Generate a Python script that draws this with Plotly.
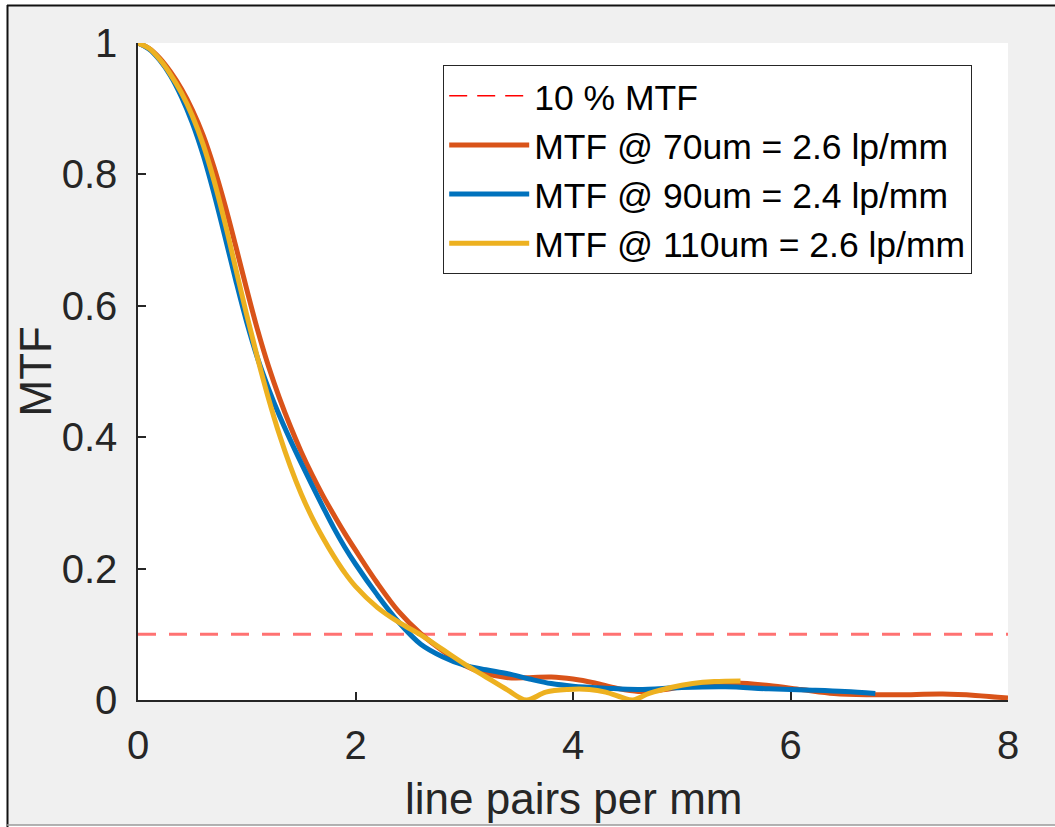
import plotly.graph_objects as go

# ---- data ----
x_70 = [0, 0.1, 0.2, 0.3, 0.4, 0.5, 0.6, 0.7, 0.8, 0.9, 1.0, 1.1, 1.2, 1.3, 1.4, 1.5, 1.6, 1.7, 1.8,
        1.9, 2.0, 2.2, 2.4, 2.6, 2.8, 3.0, 3.2, 3.4, 3.6, 3.8, 4.0, 4.2, 4.4, 4.6, 4.8, 5.0, 5.2,
        5.5, 5.8, 6.1, 6.4, 6.7, 7.0, 7.4, 7.7, 8.0]
y_70 = [1.0, 0.992, 0.977, 0.956, 0.930, 0.898, 0.859, 0.810, 0.753, 0.690, 0.625, 0.563, 0.508,
        0.460, 0.417, 0.378, 0.343, 0.311, 0.282, 0.254, 0.228, 0.178, 0.134, 0.101, 0.075, 0.053,
        0.040, 0.034, 0.034, 0.035, 0.032, 0.026, 0.018, 0.013, 0.015, 0.020, 0.024, 0.026, 0.022,
        0.016, 0.010, 0.008, 0.008, 0.009, 0.007, 0.003]

x_90 = [0, 0.1, 0.2, 0.3, 0.4, 0.5, 0.6, 0.7, 0.8, 0.9, 1.0, 1.1, 1.2, 1.3, 1.4, 1.5, 1.6, 1.7, 1.8,
        1.9, 2.0, 2.2, 2.4, 2.6, 2.8, 3.0, 3.2, 3.4, 3.6, 3.8, 4.0, 4.3, 4.6, 5.0, 5.4, 5.8, 6.2,
        6.5, 6.78]
y_90 = [1.0, 0.991, 0.974, 0.950, 0.918, 0.878, 0.829, 0.770, 0.705, 0.638, 0.575, 0.520, 0.474,
        0.433, 0.396, 0.361, 0.327, 0.294, 0.262, 0.233, 0.207, 0.160, 0.118, 0.085, 0.066, 0.053,
        0.046, 0.040, 0.032, 0.025, 0.021, 0.018, 0.016, 0.019, 0.020, 0.017, 0.015, 0.013, 0.010]

x_110 = [0, 0.1, 0.2, 0.3, 0.4, 0.5, 0.6, 0.7, 0.8, 0.9, 1.0, 1.1, 1.2, 1.3, 1.4, 1.5, 1.6, 1.7,
         1.8, 1.9, 2.0, 2.2, 2.4, 2.6, 2.8, 3.0, 3.2, 3.4, 3.57, 3.75, 3.95, 4.15, 4.3, 4.45, 4.55,
         4.7, 4.9, 5.1, 5.3, 5.54]
y_110 = [1.0, 0.992, 0.975, 0.952, 0.924, 0.889, 0.845, 0.790, 0.726, 0.656, 0.586, 0.520, 0.459,
         0.404, 0.356, 0.314, 0.278, 0.247, 0.219, 0.194, 0.173, 0.141, 0.118, 0.099, 0.077, 0.055,
         0.035, 0.015, 0.0, 0.012, 0.016, 0.016, 0.012, 0.004, 0.0, 0.010, 0.019, 0.025, 0.028, 0.029]

threshold_x = [0, 8]
threshold_y = [0.1, 0.1]

names = ["10 % MTF", "MTF @ 70um = 2.6 lp/mm", "MTF @ 90um = 2.4 lp/mm", "MTF @ 110um = 2.6 lp/mm"]
x_title = "line pairs per mm"
y_title = "MTF"
x_ticks = [0, 2, 4, 6, 8]
y_ticks = [0, 0.2, 0.4, 0.6, 0.8, 1]

# ---- layout geometry (pixels) ----
W, H = 1055, 827
L, R, T, B = 138, 1008, 43, 700

def px(xp):
    return (xp - L) / (R - L)

def py(yp):
    return (B - yp) / (B - T)

AX = "#262626"
FONT = "Liberation Sans, Arial, Helvetica, sans-serif"

fig = go.Figure()

# threshold line (plot) + legend-only sample
fig.add_trace(go.Scatter(x=threshold_x, y=threshold_y, mode="lines", showlegend=False,
                         line=dict(color="rgba(255,60,60,0.72)", width=3, dash="18px,13px"),
                         hoverinfo="skip"))
fig.add_trace(go.Scatter(x=[None], y=[None], mode="lines", name=names[0],
                         line=dict(color="#ff0000", width=1.5, dash="18px,10px")))

for xs, ys, nm, col in [(x_70, y_70, names[1], "#D95319"),
                        (x_90, y_90, names[2], "#0072BD"),
                        (x_110, y_110, names[3], "#EDB120")]:
    fig.add_trace(go.Scatter(x=xs, y=ys, mode="lines", name=nm,
                             line=dict(color=col, width=5, shape="spline", smoothing=1.0)))

shapes = [
    # white strips outside the screenshot frame
    dict(type="rect", xref="paper", yref="paper", x0=px(0), x1=px(W), y0=py(0), y1=py(5),
         fillcolor="white", line=dict(width=0), layer="below"),
    dict(type="rect", xref="paper", yref="paper", x0=px(0), x1=px(7), y0=py(0), y1=py(H),
         fillcolor="white", line=dict(width=0), layer="below"),
    dict(type="rect", xref="paper", yref="paper", x0=px(0), x1=px(W), y0=py(825), y1=py(H),
         fillcolor="white", line=dict(width=0), layer="below"),
    # frame lines
    dict(type="line", xref="paper", yref="paper", x0=px(7), x1=px(W), y0=py(5.5), y1=py(5.5),
         line=dict(color="#111111", width=2)),
    dict(type="line", xref="paper", yref="paper", x0=px(7.5), x1=px(7.5), y0=py(5), y1=py(H),
         line=dict(color="#111111", width=2)),
    dict(type="line", xref="paper", yref="paper", x0=px(7), x1=px(W), y0=py(825), y1=py(825),
         line=dict(color="#9a9a9a", width=1.5)),
]

annotations = [
    dict(text=x_title, xref="paper", yref="paper", x=0.5, y=py(798),
         xanchor="center", yanchor="middle", showarrow=False,
         font=dict(size=44, color=AX, family=FONT)),
    dict(text=y_title, xref="paper", yref="paper", x=px(35), y=0.5, textangle=-90,
         xanchor="center", yanchor="middle", showarrow=False,
         font=dict(size=44, color=AX, family=FONT)),
]

fig.update_layout(
    width=W, height=H,
    margin=dict(l=L, r=W - R, t=T, b=H - B, pad=0),
    paper_bgcolor="#f0f0f0",
    plot_bgcolor="white",
    font=dict(family=FONT, color=AX),
    showlegend=True,
    legend=dict(
        x=px(443), y=py(65), xanchor="left", yanchor="top",
        bgcolor="white", bordercolor=AX, borderwidth=1.2,
        font=dict(size=35.5, color="#000000", family=FONT),
        itemwidth=80, tracegroupgap=0,
    ),
    shapes=shapes,
    annotations=annotations,
    xaxis=dict(
        range=[0, 8], tickvals=x_ticks, ticktext=[str(v) for v in x_ticks],
        showgrid=False, zeroline=False, showline=True, linecolor=AX, linewidth=1.5,
        ticks="inside", ticklen=8, tickwidth=1.5, tickcolor=AX,
        tickfont=dict(size=40, color=AX), ticklabelstandoff=9,
        automargin=False, fixedrange=True,
    ),
    yaxis=dict(
        range=[0, 1], tickvals=y_ticks, ticktext=["0", "0.2", "0.4", "0.6", "0.8", "1"],
        showgrid=False, zeroline=False, showline=True, linecolor=AX, linewidth=1.5,
        ticks="inside", ticklen=8, tickwidth=1.5, tickcolor=AX,
        tickfont=dict(size=40, color=AX), ticklabelstandoff=11,
        automargin=False, fixedrange=True,
    ),
)

fig.write_html("out.html")
